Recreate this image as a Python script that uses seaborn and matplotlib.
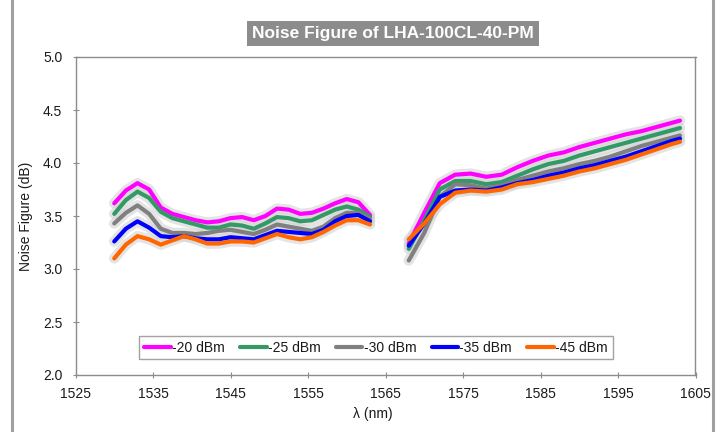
import matplotlib
matplotlib.use("Agg")
import matplotlib.pyplot as plt
from matplotlib.lines import Line2D
import seaborn as sns
import pandas as pd

# ---- data ----
wl_c = [1530, 1531.5, 1533, 1534.5, 1536, 1537.5, 1539, 1540.5, 1542, 1543.5, 1545, 1546.5,
        1548, 1549.5, 1551, 1552.5, 1554, 1555.5, 1557, 1558.5, 1560, 1561.5, 1563]
wl_l = [1568, 1570, 1572, 1574, 1576, 1578, 1580, 1582, 1584, 1586, 1588, 1590, 1592, 1594,
        1596, 1598, 1600, 1602, 1603]

series_names = ["-20 dBm", "-25 dBm", "-30 dBm", "-35 dBm", "-45 dBm"]

nf20_c = [3.62, 3.74, 3.81, 3.75, 3.58, 3.52, 3.49, 3.46, 3.44, 3.45, 3.48, 3.49,
          3.46, 3.50, 3.57, 3.56, 3.52, 3.53, 3.57, 3.62, 3.66, 3.63, 3.51]
nf25_c = [3.52, 3.65, 3.73, 3.67, 3.54, 3.48, 3.45, 3.42, 3.39, 3.39, 3.42, 3.41,
          3.38, 3.43, 3.49, 3.48, 3.45, 3.46, 3.51, 3.56, 3.59, 3.56, 3.49]
nf30_c = [3.43, 3.53, 3.60, 3.52, 3.38, 3.34, 3.34, 3.33, 3.34, 3.36, 3.37, 3.35,
          3.33, 3.37, 3.42, 3.40, 3.38, 3.36, 3.40, 3.48, 3.53, 3.53, 3.47]
nf35_c = [3.26, 3.38, 3.45, 3.39, 3.31, 3.30, 3.31, 3.29, 3.28, 3.28, 3.30, 3.29,
          3.28, 3.32, 3.36, 3.35, 3.34, 3.33, 3.37, 3.45, 3.50, 3.51, 3.45]
nf45_c = [3.10, 3.23, 3.31, 3.28, 3.23, 3.27, 3.31, 3.28, 3.24, 3.24, 3.26, 3.26,
          3.25, 3.29, 3.33, 3.30, 3.28, 3.30, 3.35, 3.41, 3.46, 3.46, 3.42]

nf20_l = [3.24, 3.53, 3.81, 3.89, 3.90, 3.87, 3.89, 3.96, 4.02, 4.07, 4.10, 4.15,
          4.19, 4.23, 4.27, 4.30, 4.34, 4.38, 4.40]
nf25_l = [3.19, 3.46, 3.75, 3.83, 3.83, 3.80, 3.82, 3.88, 3.94, 3.99, 4.02, 4.07,
          4.11, 4.15, 4.19, 4.23, 4.27, 4.31, 4.33]
nf30_l = [3.08, 3.34, 3.68, 3.80, 3.79, 3.76, 3.79, 3.84, 3.88, 3.92, 3.95, 3.99,
          4.02, 4.06, 4.11, 4.16, 4.20, 4.24, 4.26]
nf35_l = [3.22, 3.43, 3.68, 3.74, 3.75, 3.74, 3.77, 3.81, 3.84, 3.88, 3.91, 3.95,
          3.98, 4.02, 4.06, 4.11, 4.16, 4.21, 4.23]
nf45_l = [3.28, 3.43, 3.61, 3.72, 3.74, 3.73, 3.75, 3.80, 3.82, 3.85, 3.88, 3.92,
          3.95, 3.99, 4.03, 4.08, 4.13, 4.18, 4.20]

colors = ["#ff00ff", "#339966", "#808080", "#0000ff", "#ff6600"]

title = "Noise Figure of LHA-100CL-40-PM"
xlabel = "λ (nm)"
ylabel = "Noise Figure (dB)"

# ---- build long table ----
c_vals = [nf20_c, nf25_c, nf30_c, nf35_c, nf45_c]
l_vals = [nf20_l, nf25_l, nf30_l, nf35_l, nf45_l]
rows = []
for name, cv, lv in zip(series_names, c_vals, l_vals):
    for w, v in zip(wl_c, cv):
        rows.append({"wl": w, "nf": v, "series": name, "band": "C"})
    for w, v in zip(wl_l, lv):
        rows.append({"wl": w, "nf": v, "series": name, "band": "L"})
df = pd.DataFrame(rows)

# ---- style ----
sns.set_theme(style="white")
plt.rcParams["font.family"] = ["Liberation Sans", "DejaVu Sans"]

fig = plt.figure(figsize=(7.23, 4.32), dpi=100)
ax = fig.add_axes([75.5 / 723, 57 / 432, 620 / 723, 318 / 432])

palette = dict(zip(series_names, colors))
glow_pal = {n: "#d2d2d2" for n in series_names}

# soft grey glow underneath all lines
sns.lineplot(data=df, x="wl", y="nf", hue="series", units="band", estimator=None,
             palette=glow_pal, hue_order=series_names, linewidth=7.5, alpha=0.6,
             legend=False, ax=ax, sort=False, zorder=1)
# coloured lines
sns.lineplot(data=df, x="wl", y="nf", hue="series", units="band", estimator=None,
             palette=palette, hue_order=series_names, linewidth=3.0, legend=False,
             ax=ax, sort=False, zorder=2)
for ln in ax.get_lines():
    ln.set_solid_joinstyle("round")
    ln.set_solid_capstyle("round")

ax.set_xlim(1525, 1605)
ax.set_ylim(2.0, 5.0)
ax.set_xticks(list(range(1525, 1606, 10)))
ax.set_yticks([2.0, 2.5, 3.0, 3.5, 4.0, 4.5, 5.0])
ax.set_yticklabels([f"{t:.1f}" for t in [2.0, 2.5, 3.0, 3.5, 4.0, 4.5, 5.0]])

for sp in ax.spines.values():
    sp.set_visible(True)
    sp.set_color("#8c8c8c")
    sp.set_linewidth(1.0)

ax.tick_params(axis="both", which="major", direction="inout", length=5, width=0.8,
               color="#8c8c8c", labelsize=10, labelcolor="#1a1a1a")
ax.tick_params(axis="x", pad=6)
ax.tick_params(axis="y", pad=7)
ax.tick_params(bottom=True, left=True, top=False, right=False)

ax.set_xlabel(xlabel, fontsize=10, color="#1a1a1a")
ax.xaxis.set_label_coords(0.48, -0.10)
ax.set_ylabel(ylabel, fontsize=10, color="#1a1a1a")
ax.yaxis.set_label_coords(-0.068, 0.5)

# title in grey box
fig.text(393 / 723, 1 - 33.5 / 432, title, ha="center", va="center", fontsize=12.5,
         fontweight="bold", color="white",
         bbox=dict(boxstyle="square,pad=0.3", facecolor="#8c8c8c", edgecolor="none"))

# legend
handles = [Line2D([0], [0], color=c, lw=3.0) for c in colors]
leg = ax.legend(handles, series_names, loc="center", ncol=5,
                bbox_to_anchor=(376 / 723, 1 - 347.5 / 432), bbox_transform=fig.transFigure,
                fontsize=10, frameon=True, fancybox=False, handlelength=1.9,
                handletextpad=0.1, columnspacing=1.1, borderpad=0.35)
leg.get_frame().set_edgecolor("#8c8c8c")
leg.get_frame().set_linewidth(1.0)
for t in leg.get_texts():
    t.set_color("#1a1a1a")

# outer frame lines
fig.add_artist(Line2D([12 / 723, 12 / 723], [0, 1], transform=fig.transFigure,
                      color="#a0a0a0", lw=2.2))
fig.add_artist(Line2D([713 / 723, 713 / 723], [0, 1], transform=fig.transFigure,
                      color="#a0a0a0", lw=2.2))

fig.savefig("out.png", dpi=100)
